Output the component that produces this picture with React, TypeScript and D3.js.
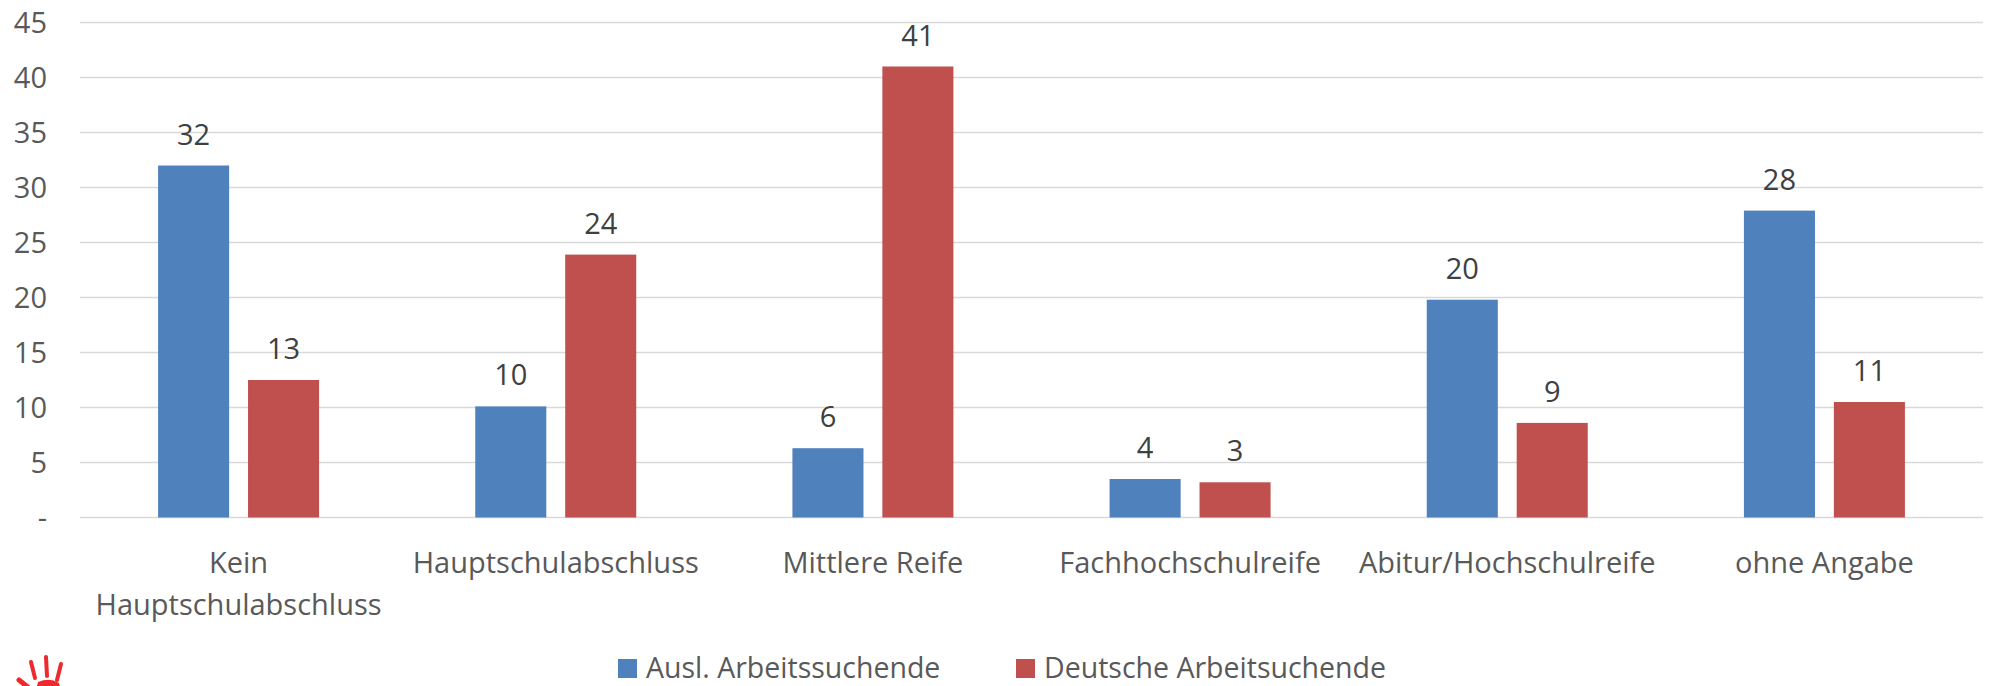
import React, { useEffect, useRef } from 'react';
import * as d3 from 'd3';

const categories = [
  ['Kein', 'Hauptschulabschluss'],
  ['Hauptschulabschluss'],
  ['Mittlere Reife'],
  ['Fachhochschulreife'],
  ['Abitur/Hochschulreife'],
  ['ohne Angabe'],
];
const seriesNames = ['Ausl. Arbeitssuchende', 'Deutsche Arbeitsuchende'];
const auslValues = [32.0, 10.1, 6.3, 3.5, 19.8, 27.9];
const deutschValues = [12.5, 23.9, 41.0, 3.2, 8.6, 10.5];
const yTicks = [0, 5, 10, 15, 20, 25, 30, 35, 40, 45];
const colors = ['#4F81BD', '#C0504D'];

const W = 1991, H = 686;
const FONT = '"Open Sans", sans-serif';

const App = () => {
  const ref = useRef(null);

  useEffect(() => {
    if (!ref.current) return;
    const svg = d3.select(ref.current);
    svg.selectAll('*').remove();

    const left = 80, right = 1983, top = 22.5, bottom = 517.5;
    const keys = categories.map(c => c.join(' '));
    const series = [auslValues, deutschValues];

    const x0 = d3.scaleBand().domain(keys).range([left, right]).padding(0);
    const bw = x0.bandwidth();
    const x1 = d3.scaleBand()
      .domain(seriesNames)
      .range([bw * 0.2462, bw * 0.7538])
      .paddingInner(0.21)
      .paddingOuter(0);
    const y = d3.scaleLinear().domain([0, 45]).range([bottom, top]);

    // gridlines
    svg.append('g')
      .selectAll('line')
      .data(yTicks)
      .enter().append('line')
      .attr('x1', left).attr('x2', right)
      .attr('y1', d => y(d)).attr('y2', d => y(d))
      .attr('stroke', '#D9D9D9')
      .attr('stroke-width', 1.6);

    // y tick labels
    svg.append('g')
      .selectAll('text')
      .data(yTicks)
      .enter().append('text')
      .attr('x', 47)
      .attr('y', d => y(d))
      .attr('dy', '0.36em')
      .attr('text-anchor', 'end')
      .attr('font-family', FONT)
      .attr('font-size', 29)
      .attr('fill', '#595959')
      .text(d => (d === 0 ? '-' : String(d)));

    // bars + labels
    series.forEach((vals, si) => {
      const g = svg.append('g');
      g.selectAll('rect')
        .data(vals)
        .enter().append('rect')
        .attr('x', (d, i) => x0(keys[i]) + x1(seriesNames[si]))
        .attr('y', d => y(d))
        .attr('width', x1.bandwidth())
        .attr('height', d => y(0) - y(d))
        .attr('fill', colors[si]);
      g.selectAll('text')
        .data(vals)
        .enter().append('text')
        .attr('x', (d, i) => x0(keys[i]) + x1(seriesNames[si]) + x1.bandwidth() / 2)
        .attr('y', d => y(d) - 21)
        .attr('text-anchor', 'middle')
        .attr('font-family', FONT)
        .attr('font-size', 29)
        .attr('fill', '#404040')
        .text(d => String(Math.round(d)));
    });

    // category labels
    const cat = svg.append('g')
      .selectAll('text')
      .data(categories)
      .enter().append('text')
      .attr('x', (d, i) => x0(keys[i]) + bw / 2)
      .attr('y', 573)
      .attr('text-anchor', 'middle')
      .attr('font-family', FONT)
      .attr('font-size', 29)
      .attr('fill', '#595959');
    cat.selectAll('tspan')
      .data(d => d)
      .enter().append('tspan')
      .attr('x', function () {
        return (this.parentNode as SVGTextElement).getAttribute('x');
      })
      .attr('dy', (d, i) => (i === 0 ? 0 : 42))
      .text(d => d);

    // legend
    const legendX = [618, 1016];
    const lg = svg.append('g');
    seriesNames.forEach((name, i) => {
      lg.append('rect')
        .attr('x', legendX[i]).attr('y', 659)
        .attr('width', 19).attr('height', 19)
        .attr('fill', colors[i]);
      lg.append('text')
        .attr('x', legendX[i] + 28).attr('y', 677.5)
        .attr('font-family', FONT)
        .attr('font-size', 28.5)
        .attr('fill', '#595959')
        .text(name);
    });

    // little red hand logo in the corner
    const hand = svg.append('g')
      .attr('stroke', '#EE2A2E')
      .attr('stroke-linecap', 'round')
      .attr('fill', 'none');
    const strokes = [
      { p: 'M31,662 L35,678', w: 4 },
      { p: 'M46,657 L47,676', w: 4 },
      { p: 'M61,664 L57,680', w: 4 },
      { p: 'M19,680 L29,688', w: 5 },
    ];
    strokes.forEach(s => hand.append('path').attr('d', s.p).attr('stroke-width', s.w));
    hand.append('path')
      .attr('d', 'M38,682 Q50,677 59,683 L61,690 L36,690 Z')
      .attr('fill', '#EE2A2E')
      .attr('stroke', 'none');
  }, []);

  return (
    <svg
      ref={ref}
      width={W}
      height={H}
      style={{ position: 'absolute', left: 0, top: 0, background: '#fff' }}
    />
  );
};

export default App;
